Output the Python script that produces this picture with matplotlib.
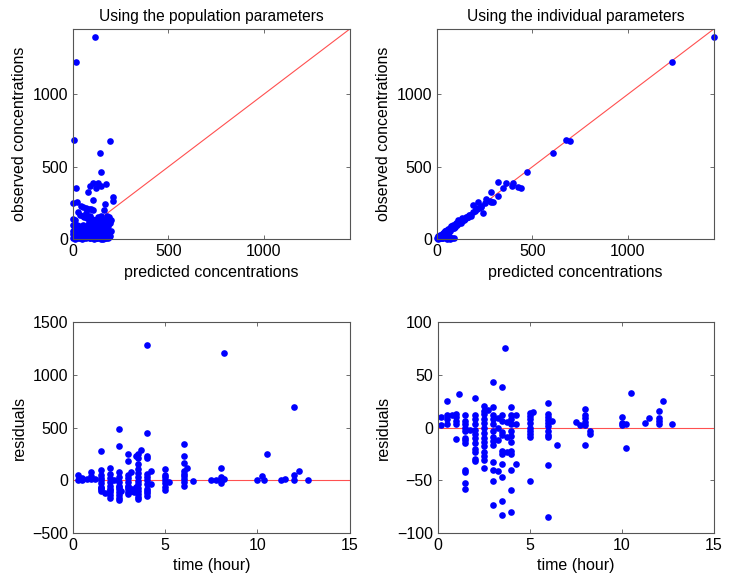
import numpy as np
import matplotlib
matplotlib.use('Agg')
import matplotlib.pyplot as plt

plt.rcParams['font.family'] = ['Liberation Sans', 'DejaVu Sans']

# observed vs predicted, population parameters
pop_pred = [117, 14, 3, 195, 143, 148, 107, 90, 133, 148, 121, 172, 17, 81, 212, 212, 0, 22, 107, 169,
            40, 55, 70, 85, 95, 105, 25, 35, 50, 60, 75, 90, 100, 115, 130, 150, 165, 180, 190, 200,
            195, 175, 160, 140, 10, 5, 0, 120, 110, 70, 85, 145, 185, 200, 190, 170, 180, 150,
            0, 5, 10, 15, 20, 25, 30, 35, 40, 45, 50, 55, 60, 65, 70, 75, 80, 85, 90, 95, 100, 105,
            110, 115, 120, 125, 130, 135, 140, 145, 150, 155, 160, 165, 170, 175, 180, 185, 10, 30,
            50, 60, 20, 80, 100, 130, 160, 15, 40, 70, 95, 125, 150, 175, 195, 5, 2, 30, 60, 110,
            8, 28, 48, 68, 88, 108, 128, 148, 168, 12, 38, 62, 92, 118, 142, 158, 3, 1, 2,
            18, 42, 58, 78, 98, 122, 138, 162, 178, 188, 22, 52, 82, 112, 135, 155, 172, 190,
            6, 26, 46, 66, 86, 106, 126, 146, 166, 184, 140, 160, 185, 120]
pop_obs = [1395, 1223, 684, 679, 596, 466, 390, 369, 385, 369, 356, 383, 351, 326, 294, 264, 252, 257, 271, 243,
           230, 225, 215, 210, 205, 200, 190, 170, 160, 150, 145, 160, 140, 130, 150, 140, 200, 160, 150, 130,
           110, 120, 110, 120, 130, 90, 60, 100, 130, 180, 120, 160, 90, 60, 40, 20, 70, 80,
           10, 30, 5, 45, 15, 60, 25, 5, 40, 70, 20, 50, 10, 35, 75, 15, 55, 25, 5, 45, 80, 20,
           60, 30, 10, 50, 85, 25, 65, 5, 40, 15, 70, 30, 50, 10, 35, 60, 70, 90,
           100, 80, 100, 100, 105, 110, 95, 20, 10, 5, 15, 5, 20, 45, 20, 50, 100, 50, 60, 90,
           2, 8, 3, 12, 6, 2, 9, 4, 7, 18, 22, 14, 28, 32, 12, 3, 20, 35, 140,
           55, 62, 38, 48, 58, 42, 88, 55, 100, 12, 78, 85, 68, 72, 98, 115, 88, 30,
           22, 18, 28, 24, 40, 36, 30, 25, 20, 5, 100, 135, 130, 75]

# observed vs predicted, individual parameters
ind_pred = [1450, 1230, 674, 697, 607, 470, 320, 320, 285, 285, 364, 347, 400, 391, 426, 438, 188, 215, 232, 241,
            259, 276, 294, 250, 230, 210, 200, 190, 175, 165, 155, 145, 135, 125, 115, 105, 95, 85, 75, 65,
            55, 45, 35, 25, 15, 5, 180, 160, 140, 120, 100, 90, 80, 70, 60, 50, 40, 30, 20, 10,
            60, 70, 80, 90, 50, 65, 85, 30, 15, 5, 2, 8, 40, 110, 130, 150, 170, 205, 220,
            10, 20, 35, 45, 55, 70, 3, 12, 25, 40, 60, 75, 95, 105, 125]
ind_obs = [1395, 1223, 688, 679, 596, 466, 397, 298, 323, 259, 390, 356, 385, 369, 362, 356, 236, 255, 220, 179,
           275, 266, 259, 250, 232, 210, 195, 185, 170, 155, 150, 140, 130, 120, 110, 100, 95, 80, 70, 55,
           50, 40, 30, 20, 10, 3, 160, 150, 130, 125, 110, 80, 90, 75, 70, 60, 50, 40, 30, 25,
           5, 3, 8, 10, 2, 20, 100, 10, 30, 20, 5, 15, 55, 130, 145, 155, 165, 215, 215,
           18, 8, 45, 30, 65, 55, 12, 25, 5, 60, 45, 90, 85, 115, 110]

# residuals vs time, population parameters
pop_t = [0.25, 0.25, 0.5, 0.5, 0.75, 1, 1, 1, 1.17,
         1.5, 1.5, 1.5, 1.5, 1.5, 1.5, 1.5, 1.5, 1.5, 1.75,
         2, 2, 2, 2, 2, 2, 2, 2, 2, 2.2,
         2.5, 2.5, 2.5, 2.5, 2.5, 2.5, 2.5, 2.5, 2.5, 2.5, 2.5, 2.6,
         3, 3, 3, 3, 3, 3, 3, 3, 3, 3.17, 3.17,
         3.5, 3.5, 3.5, 3.5, 3.5, 3.5, 3.5, 3.5, 3.5, 3.5, 3.5, 3.5, 3.7, 3.4,
         4, 4, 4, 4, 4, 4, 4, 4, 4, 4, 4, 4.25, 4.25,
         5, 5, 5, 5, 5, 5, 5, 5.2,
         6, 6, 6, 6, 6, 6, 6, 6, 6, 6.2, 6.5, 7.5, 7.75,
         8, 8, 8, 8, 8.2, 8.2, 10, 10.25, 10.35, 10.5, 11.25, 11.5, 12, 12, 12, 12.25, 12.75,
         2, 2.5, 3, 3.4, 3.5, 4, 1.5, 3.2, 3.3]
pop_res = [50, 0, 25, 0, 15, 80, 40, 10, 15,
           280, 100, 50, 20, 0, -30, -60, -80, -100, -120,
           120, 60, 20, -20, -50, -80, -110, -140, -170, 0,
           490, 320, 80, 30, -20, -50, -80, -110, -140, -170, -190, -100,
           250, 180, 50, 20, -20, -50, -80, -110, -130, 80, -100,
           250, 210, 150, 110, 70, 30, -10, -40, -70, -100, -130, -180, 290, 230,
           1280, 450, 230, 210, 60, 30, 0, -40, -80, -120, -150, 90, -40,
           110, 50, 30, 0, -30, -60, -90, -20,
           340, 230, 160, 90, 60, 40, 10, -20, -50, 120, -10, 0, 0,
           120, 30, 0, -30, 1210, 10, 0, 40, 0, 250, 0, 10, 690, 50, 0, 90, 0,
           -95, -65, -65, -60, -155, -100, -75, -85, -115]

# residuals vs time, individual parameters
ind_t = [0.17, 0.17, 0.5, 0.5, 0.5, 0.5, 0.75, 1, 1, 1, 1, 1, 1.17,
         1.5, 1.5, 1.5, 1.5, 1.5, 1.5, 1.5, 1.5, 1.5, 1.5, 1.5, 1.5, 1.75,
         2, 2, 2, 2, 2, 2, 2, 2, 2, 2, 2, 2,
         2.5, 2.5, 2.5, 2.5, 2.5, 2.5, 2.5, 2.5, 2.5, 2.5, 2.5, 2.5, 2.5, 2.5, 2.75,
         3, 3, 3, 3, 3, 3, 3, 3, 3, 3, 3, 3, 3, 3.25, 3.25, 3.25, 3.25,
         3.5, 3.5, 3.5, 3.5, 3.5, 3.5, 3.5, 3.5, 3.5, 3.5, 3.5, 3.65, 3.75, 3.75, 3.75,
         4, 4, 4, 4, 4, 4, 4, 4, 4, 4, 4, 4, 4.25, 4.25, 4.25,
         5, 5, 5, 5, 5, 5, 5, 5, 5, 5.2,
         6, 6, 6, 6, 6, 6, 6, 6, 6, 6, 6, 6.2, 6.5, 7.5, 7.75,
         8, 8, 8, 8, 8, 8, 8.25, 8.25, 10, 10, 10, 10.25, 10.25, 10.5, 11.25, 11.5,
         12, 12, 12, 12, 12.25, 12.75]
ind_res = [10, 2, 25, 12, 8, 3, 12, 13, 10, 6, 3, -11, 32,
           12, 6, 3, 0, -3, -10, -12, -15, -40, -42, -53, -58, -2,
           28, 12, 8, 3, -2, -6, -10, -15, -20, -23, -30, -32,
           20, 16, 13, 8, 4, 0, -5, -10, -14, -18, -23, -27, -31, -38, 17,
           43, 19, 12, 8, 3, -3, -9, -13, -17, -33, -40, -51, -73, 9, 0, -12, -41,
           38, 12, 6, -4, -7, -22, -25, -35, -47, -70, -83, 75, 5, -9, -23,
           19, 12, 8, 3, -3, -8, -14, -22, -25, -40, -59, -80, 12, 3, -35,
           14, 11, 8, 4, 0, -3, -6, -9, -51, 15,
           23, 13, 10, 7, 4, 1, -3, -7, -9, -36, -85, 6, -17, 5, 2,
           18, 12, 9, 5, 2, -17, -3, -6, 10, 4, 2, -19, 3, 33, 4, 9,
           16, 9, 6, 3, 25, 3]

conc_max = 1450

fig = plt.figure(figsize=(7.32, 5.82), dpi=100)
ax1 = fig.add_axes([0.0997, 0.589, 0.378, 0.361])
ax2 = fig.add_axes([0.597, 0.589, 0.378, 0.361])
ax3 = fig.add_axes([0.0997, 0.0842, 0.378, 0.3625])
ax4 = fig.add_axes([0.598, 0.0842, 0.377, 0.3625])

dot = dict(linestyle='none', marker='o', color='#0000ff', markersize=4.8, markeredgewidth=0, clip_on=False)
red = dict(color='#ff5050', linewidth=0.8)

ax1.plot([0, conc_max], [0, conc_max], **red)
ax1.plot(pop_pred, pop_obs, **dot)
ax1.set_title('Using the population parameters', fontsize=11.2)

ax2.plot([0, conc_max], [0, conc_max], **red)
ax2.plot(ind_pred, ind_obs, **dot)
ax2.set_title('Using the individual parameters', fontsize=11.2)

for ax in (ax1, ax2):
    ax.set_xlim(0, conc_max)
    ax.set_ylim(0, conc_max)
    ax.set_xticks([0, 500, 1000])
    ax.set_yticks([0, 500, 1000])
    ax.set_xlabel('predicted concentrations', fontsize=11.5)
    ax.set_ylabel('observed concentrations', fontsize=11.5)

ax3.plot([0, 15], [0, 0], **red)
ax3.plot(pop_t, pop_res, **dot)
ax3.set_ylim(-500, 1500)
ax3.set_yticks([-500, 0, 500, 1000, 1500])

ax4.plot([0, 15], [0, 0], **red)
ax4.plot(ind_t, ind_res, **dot)
ax4.set_ylim(-100, 100)
ax4.set_yticks([-100, -50, 0, 50, 100])

for ax in (ax1, ax2, ax3, ax4):
    if ax in (ax3, ax4):
        ax.set_xlim(0, 15)
        ax.set_xticks([0, 5, 10, 15])
        ax.set_xlabel('time (hour)', fontsize=11.5)
        ax.set_ylabel('residuals', fontsize=11.5)
    ax.tick_params(direction='in', top=True, right=True, labelsize=11.5, length=3, width=0.6, color='#555555')
    for s in ax.spines.values():
        s.set_color('#555555')
        s.set_linewidth(0.8)

fig.savefig('out.png', dpi=100)
